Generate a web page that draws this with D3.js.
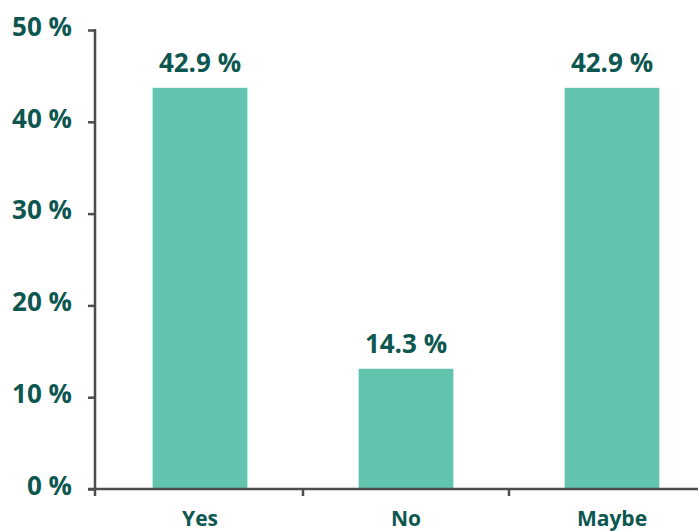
<!DOCTYPE html>
<html>
<head>
<meta charset="utf-8">
<script src="https://cdn.jsdelivr.net/npm/d3@7"></script>
<style>
  html, body { margin: 0; padding: 0; background: #fff; }
  svg { display: block; }
  text { font-family: "Open Sans", sans-serif; font-weight: 700; fill: #0d5750; }
</style>
</head>
<body>
<svg id="chart" width="698" height="531"></svg>
<script>
const categories = ["Yes", "No", "Maybe"];
const barValues = [43.7, 13.1, 43.7];
const valueLabels = ["42.9 %", "14.3 %", "42.9 %"];
const yTicks = [0, 10, 20, 30, 40, 50];

const svg = d3.select("#chart");
const axisX = 95, y0 = 489, yTop = 30;

const y = d3.scaleLinear().domain([0, 50]).range([y0, yTop]);
const x = d3.scaleBand().domain(categories).range([97, 715]).paddingInner(0.54).paddingOuter(0.27);

const axisColor = "#4d4d4d";

// bars
svg.selectAll("rect.bar").data(categories).join("rect")
  .attr("class", "bar")
  .attr("x", d => x(d))
  .attr("width", x.bandwidth())
  .attr("y", (d, i) => y(barValues[i]))
  .attr("height", (d, i) => y(0) - y(barValues[i]))
  .attr("fill", "#62c4ae");

// value labels
svg.selectAll("text.val").data(categories).join("text")
  .attr("class", "val")
  .attr("x", d => x(d) + x.bandwidth() / 2)
  .attr("y", (d, i) => y(barValues[i]) - 16)
  .attr("text-anchor", "middle")
  .style("font-size", "26px")
  .text((d, i) => valueLabels[i]);

// y axis
const yAxis = d3.axisLeft(y).tickValues(yTicks).tickSize(7).tickSizeOuter(0).tickPadding(16)
  .tickFormat(d => d + " %");
const gy = svg.append("g").attr("transform", `translate(${axisX},0)`).call(yAxis);
gy.select(".domain").remove();
gy.selectAll(".tick line").attr("stroke", axisColor).attr("stroke-width", 2.5);
gy.selectAll(".tick text")
  .style("font-family", "'Open Sans', sans-serif").style("font-weight", 700)
  .style("font-size", "26px").attr("fill", "#0d5750").attr("dy", "0.2em");
gy.append("line").attr("x1", 0).attr("x2", 0).attr("y1", yTop - 1).attr("y2", y0 + 7)
  .attr("stroke", axisColor).attr("stroke-width", 2.5);

// x axis
const step = x.step();
const boundaries = categories.map(d => x(d) - step * x.paddingInner() / 2).slice(1);
const gx = svg.append("g");
gx.append("line").attr("x1", axisX - 7).attr("x2", 698).attr("y1", y0).attr("y2", y0)
  .attr("stroke", axisColor).attr("stroke-width", 2.5);
gx.selectAll("line.bt").data(boundaries).join("line")
  .attr("class", "bt")
  .attr("x1", d => d).attr("x2", d => d).attr("y1", y0).attr("y2", y0 + 7)
  .attr("stroke", axisColor).attr("stroke-width", 2.5);
const xAxis = d3.axisBottom(x).tickSize(0).tickPadding(0);
const gxl = svg.append("g").attr("transform", `translate(0,${y0})`).call(xAxis);
gxl.select(".domain").remove();
gxl.selectAll(".tick text")
  .style("font-family", "'Open Sans', sans-serif").style("font-weight", 700)
  .style("font-size", "21px").attr("fill", "#0d5750").attr("dy", null).attr("y", 37);
</script>
</body>
</html>
